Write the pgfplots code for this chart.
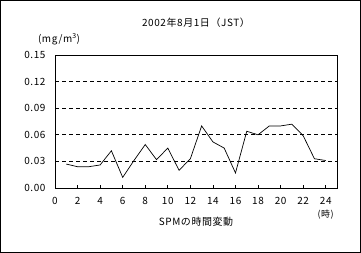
\documentclass[border=0pt]{standalone}
\usepackage{fontspec}
\setmainfont[LetterSpace=6]{Noto Sans CJK JP}
\usepackage{pgfplots}
\pgfplotsset{compat=1.18}
\begin{document}
\begin{tikzpicture}[font=\fontsize{10}{12}\selectfont]
\begin{axis}[
  scale only axis,
  width=282bp, height=133bp,
  xmin=0, xmax=25, ymin=0, ymax=0.15,
  xtick={0,2,...,24},
  ytick={0,0.03,...,0.15},
  axis line style={line width=0.9bp},
  tick style={black, line width=0.8bp},
  xtick pos=bottom, xtick align=inside,
  major tick length=3bp,
  ytick style={draw=none},
  ymajorgrids,
  grid style={black, line width=0.8bp, dash pattern=on 4bp off 3bp},
  /pgf/number format/assume math mode=true,
  yticklabel style={/pgf/number format/fixed, /pgf/number format/fixed zerofill, /pgf/number format/precision=2, xshift=-6bp},
  scaled y ticks=false,
  xticklabel style={yshift=-6bp},
  xlabel={SPMの時間変動},
  xlabel style={yshift=-5bp},
  title={2002年8月1日（JST）},
  title style={yshift=18bp},
  clip=false,
]
\addplot[black, line width=0.7bp] coordinates {
(1,0.027) (2,0.024) (3,0.024) (4,0.026) (5,0.042) (6,0.012) (7,0.031) (8,0.049)
(9,0.032) (10,0.045) (11,0.020) (12,0.033) (13,0.070) (14,0.052) (15,0.045) (16,0.017)
(17,0.064) (18,0.060) (19,0.070) (20,0.070) (21,0.072) (22,0.059) (23,0.033) (24,0.031)
};
\node at (rel axis cs:0,1) [xshift=4bp, yshift=16bp] {(mg/m\textsuperscript{3})};
\node at (axis cs:24,0) [yshift=-27bp, font=\fontsize{9}{10}\selectfont] {(時)};
\end{axis}
\draw[line width=1bp] (-54.5bp,-64.5bp) rectangle (305.5bp,187.5bp);
\end{tikzpicture}
\end{document}
